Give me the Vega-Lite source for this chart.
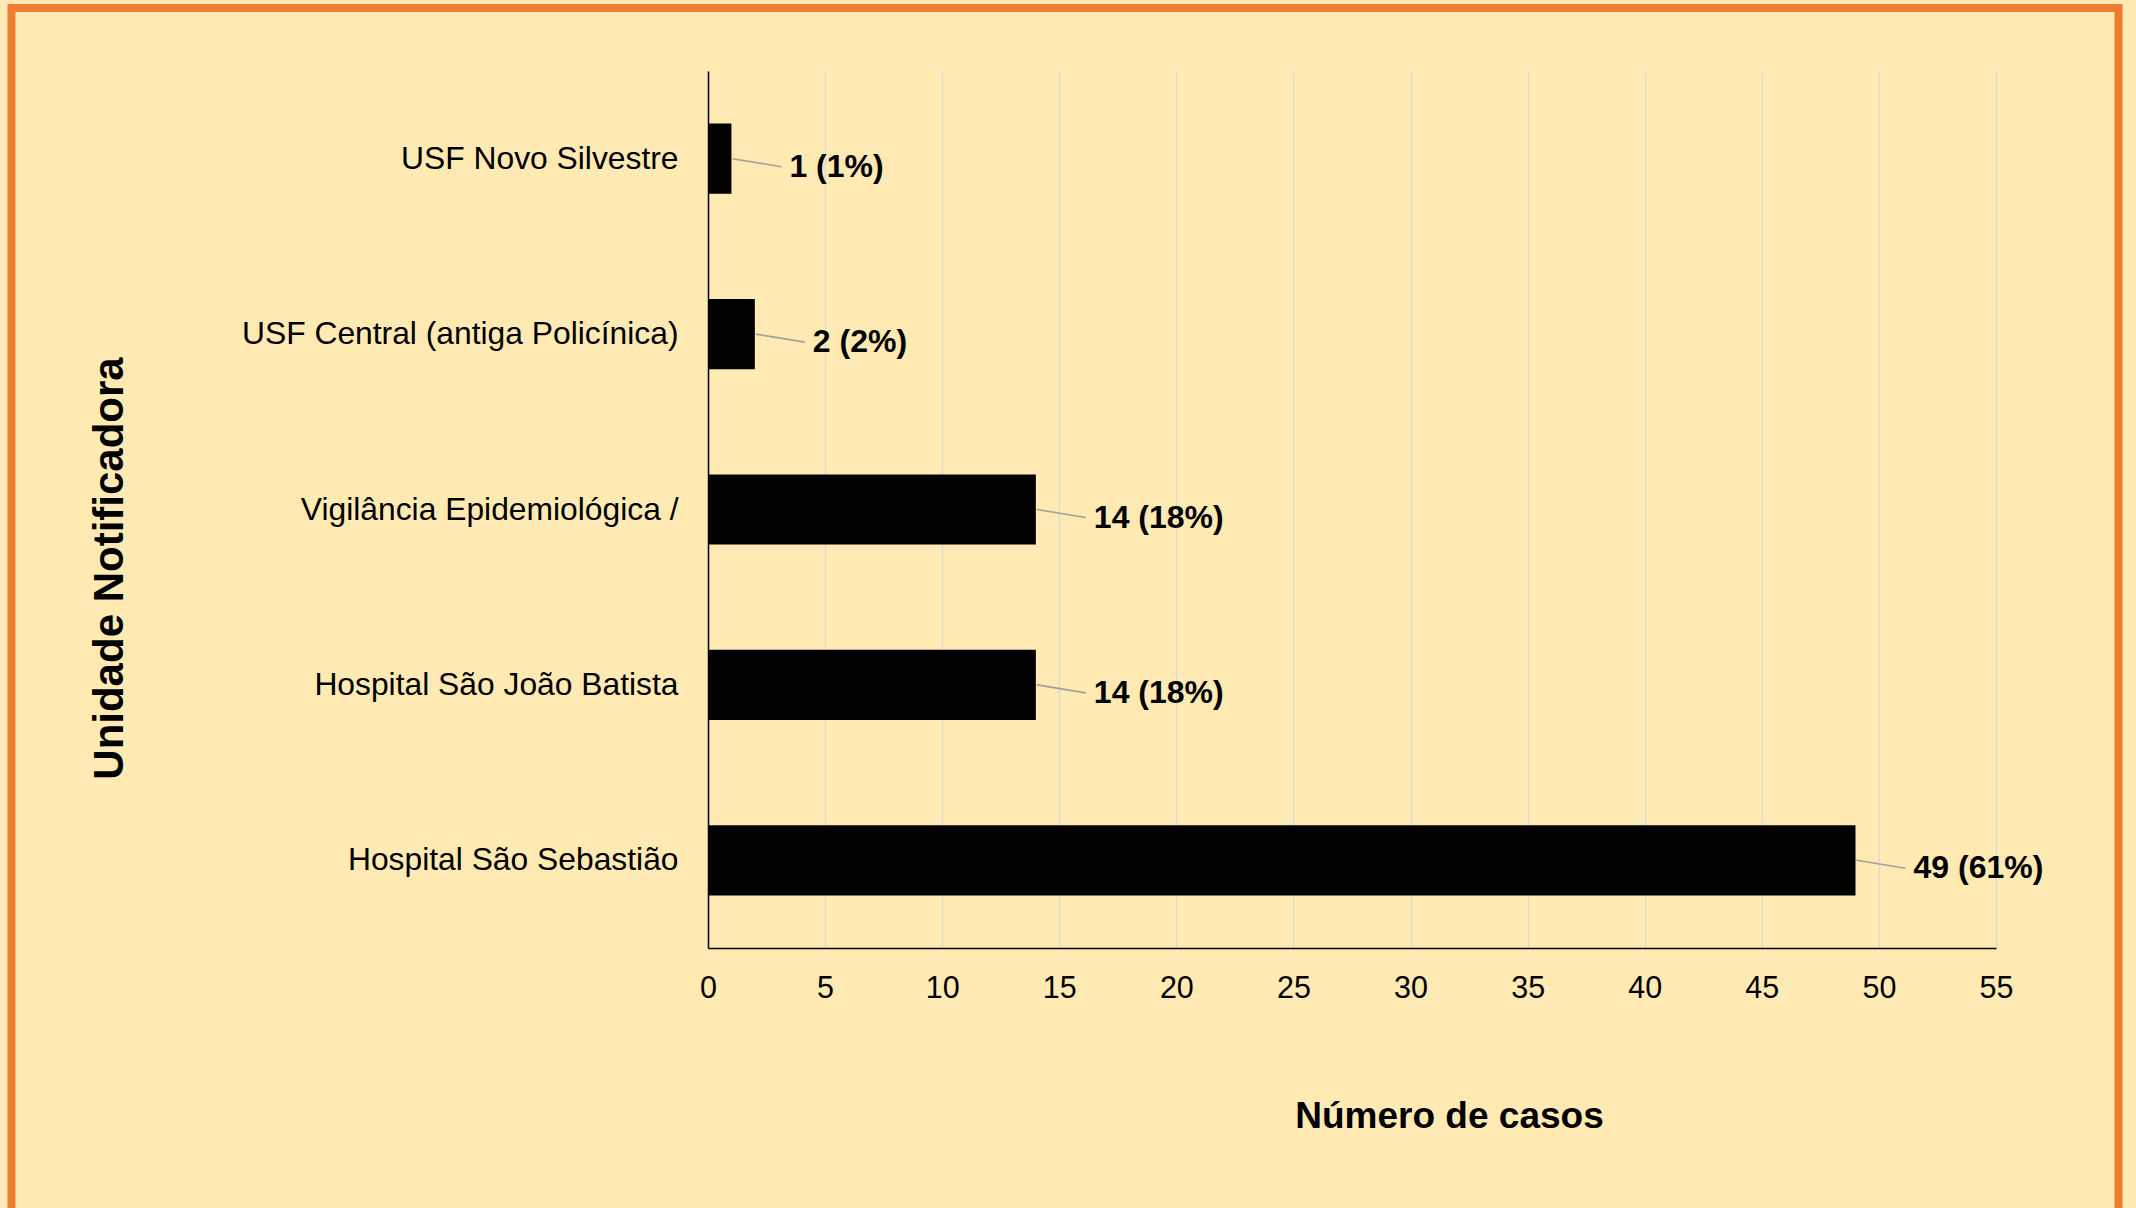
{
  "$schema": "https://vega.github.io/schema/vega-lite/v6.json",
  "autosize": {"type": "none"},
  "width": 1288,
  "height": 877,
  "padding": {"left": 708, "top": 71, "right": 140, "bottom": 260},
  "background": "#FFEAB3",
  "config": {
    "view": {"stroke": null},
    "font": "Liberation Sans",
    "legend": {"gradientVerticalMaxLength": 3000, "gradientHorizontalMaxLength": 3000}
  },
  "data": {
    "values": [
      {"unidade": "USF Novo Silvestre", "casos": 1, "rotulo": "1 (1%)"},
      {"unidade": "USF Central (antiga Policínica)", "casos": 2, "rotulo": "2 (2%)"},
      {"unidade": "Vigilância Epidemiológica /", "casos": 14, "rotulo": "14 (18%)"},
      {"unidade": "Hospital São João Batista", "casos": 14, "rotulo": "14 (18%)"},
      {"unidade": "Hospital São Sebastião", "casos": 49, "rotulo": "49 (61%)"}
    ]
  },
  "encoding": {
    "y": {
      "field": "unidade",
      "type": "nominal",
      "sort": ["USF Novo Silvestre", "USF Central (antiga Policínica)", "Vigilância Epidemiológica /", "Hospital São João Batista", "Hospital São Sebastião"],
      "scale": {"paddingInner": 0.6, "paddingOuter": 0.3},
      "axis": {
        "title": "Unidade Notificadora",
        "titleFont": "Liberation Sans",
        "titleFontSize": 42,
        "titleFontWeight": "bold",
        "titleColor": "#000000",
        "titleAngle": -90,
        "titleAlign": "center",
        "titleBaseline": "alphabetic",
        "titleX": -586,
        "titleY": 497,
        "labelFont": "Liberation Sans",
        "labelFontSize": 31.8,
        "labelColor": "#000000",
        "labelPadding": 30,
        "labelLimit": 0,
        "ticks": false,
        "grid": false,
        "domain": true,
        "domainColor": "#000000",
        "domainWidth": 1.5
      }
    }
  },
  "layer": [
    {
      "mark": {"type": "bar", "color": "#000000", "strokeWidth": 0},
      "encoding": {
        "x": {
          "field": "casos",
          "type": "quantitative",
          "scale": {"domain": [0, 55], "nice": false},
          "axis": {
            "title": "Número de casos",
            "titleFont": "Liberation Sans",
            "titleFontSize": 37,
            "titleFontWeight": "bold",
            "titleColor": "#000000",
            "titleAlign": "center",
            "titleBaseline": "alphabetic",
            "titleX": 741,
            "titleY": 179,
            "values": [0, 5, 10, 15, 20, 25, 30, 35, 40, 45, 50, 55],
            "labelFont": "Liberation Sans",
            "labelFontSize": 30.5,
            "labelColor": "#000000",
            "labelPadding": 25,
            "labelFlush": false,
            "labelOverlap": false,
            "ticks": false,
            "grid": true,
            "gridColor": "#D9D9D9",
            "gridWidth": 1.3,
            "domainColor": "#000000",
            "domainWidth": 1.5
          }
        },
        "stroke": {
          "field": "casos",
          "type": "quantitative",
          "scale": {"range": ["#000000", "#000000"]},
          "legend": {
            "orient": "none",
            "direction": "vertical",
            "legendX": -696.5,
            "legendY": -63,
            "title": null,
            "padding": 0,
            "gradientThickness": 2107,
            "gradientLength": 1215,
            "gradientStrokeWidth": 0,
            "labelExpr": "''",
            "labelOffset": 0,
            "labelOpacity": 0,
            "labelFontSize": 1,
            "strokeColor": "#ED7D31",
            "encode": {
              "gradient": {"update": {"opacity": {"value": 0}}},
              "legend": {"update": {"stroke": {"value": "#ED7D31"}, "strokeWidth": {"value": 8}}}
            }
          }
        }
      }
    },
    {
      "mark": {"type": "rule", "color": "#A0A0A0", "strokeWidth": 1.6, "xOffset": 1, "x2Offset": 50, "y2Offset": 8},
      "encoding": {
        "x": {"field": "casos", "type": "quantitative"},
        "x2": {"field": "casos"},
        "y2": {"field": "unidade"}
      }
    },
    {
      "mark": {"type": "text", "align": "left", "baseline": "middle", "dx": 58, "dy": 8, "font": "Liberation Sans", "fontSize": 32, "fontWeight": "bold", "color": "#000000"},
      "encoding": {
        "x": {"field": "casos", "type": "quantitative"},
        "text": {"field": "rotulo"}
      }
    }
  ]
}
